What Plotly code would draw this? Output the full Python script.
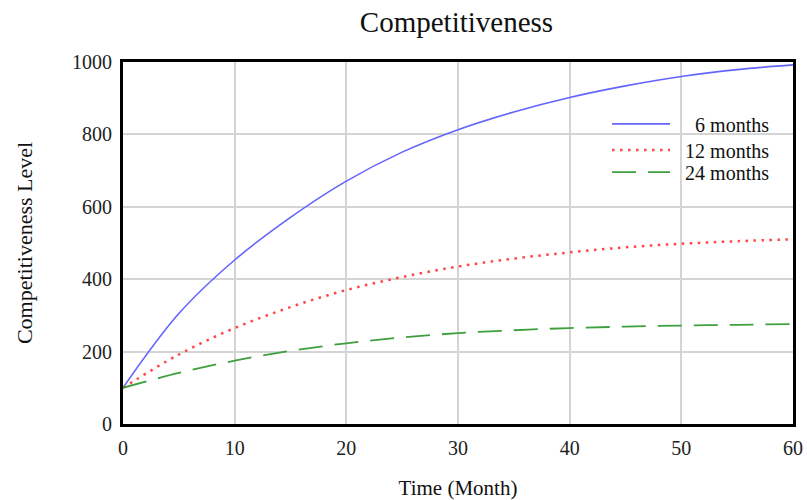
import plotly.graph_objects as go

# Simulated competitiveness level over time for three adjustment periods
months = [0, 5, 10, 15, 20, 25, 30, 35, 40, 45, 50, 55, 60]
level_6m = [100, 305, 453, 571, 671, 751, 813, 862, 902, 934, 960, 979, 992]
level_12m = [100, 192, 265, 323, 370, 406, 435, 457, 474, 488, 498, 505, 510]
level_24m = [100, 141, 175, 202, 223, 239, 251, 259, 265, 269, 272, 274, 276]

series_names = ["\u00a0\u2007\u00a06 months", "\u00a0\u00a012 months", "\u00a0\u00a024 months"]
x_ticks = [0, 10, 20, 30, 40, 50, 60]
y_ticks = [0, 200, 400, 600, 800, 1000]

serif = "Liberation Serif, Times New Roman, serif"

fig = go.Figure()
fig.add_trace(go.Scatter(
    x=months, y=level_6m, name=series_names[0], mode="lines", legend="legend",
    line=dict(color="#6464ff", width=1.6, shape="spline"),
))
fig.add_trace(go.Scatter(
    x=months, y=level_12m, name=series_names[1], mode="lines", legend="legend2",
    line=dict(color="#ff4545", width=2.5, dash="2.5px,5.5px", shape="spline"),
))
fig.add_trace(go.Scatter(
    x=months, y=level_24m, name=series_names[2], mode="lines", legend="legend3",
    line=dict(color="#3d9f3d", width=1.8, dash="24px,12px", shape="spline"),
))

axis_common = dict(
    showgrid=True, gridcolor="#d4d4d4", gridwidth=1.8,
    showline=True, linecolor="black", linewidth=3, mirror=True,
    zeroline=False, ticks="", automargin=False,
    tickfont=dict(family=serif, size=20, color="#222"),
)

legend_common = dict(
    x=0.7225, xanchor="left", yanchor="middle",
    bgcolor="rgba(0,0,0,0)", itemwidth=58,
    font=dict(family=serif, size=20, color="#111"),
)

fig.update_layout(
    width=807, height=500,
    margin=dict(l=123, r=14, t=62, b=76),
    paper_bgcolor="white", plot_bgcolor="white",
    title=dict(text="Competitiveness", x=0.5657, xanchor="center", y=0.957, yanchor="middle",
               font=dict(family=serif, size=29, color="#111")),
    xaxis=dict(range=[0, 60], tickvals=x_ticks, ticklabelstandoff=4,
               title=dict(text="Time (Month)", font=dict(family=serif, size=21, color="#111"), standoff=23),
               **axis_common),
    yaxis=dict(range=[0, 1000], tickvals=y_ticks, ticklabelstandoff=4,
               title=dict(text="Competitiveness Level", font=dict(family=serif, size=22, color="#111"), standoff=34),
               **axis_common),
    legend=dict(y=0.829, **legend_common),
    legend2=dict(y=0.757, **legend_common),
    legend3=dict(y=0.696, **legend_common),
    showlegend=True,
)

fig.write_html("out.html")
